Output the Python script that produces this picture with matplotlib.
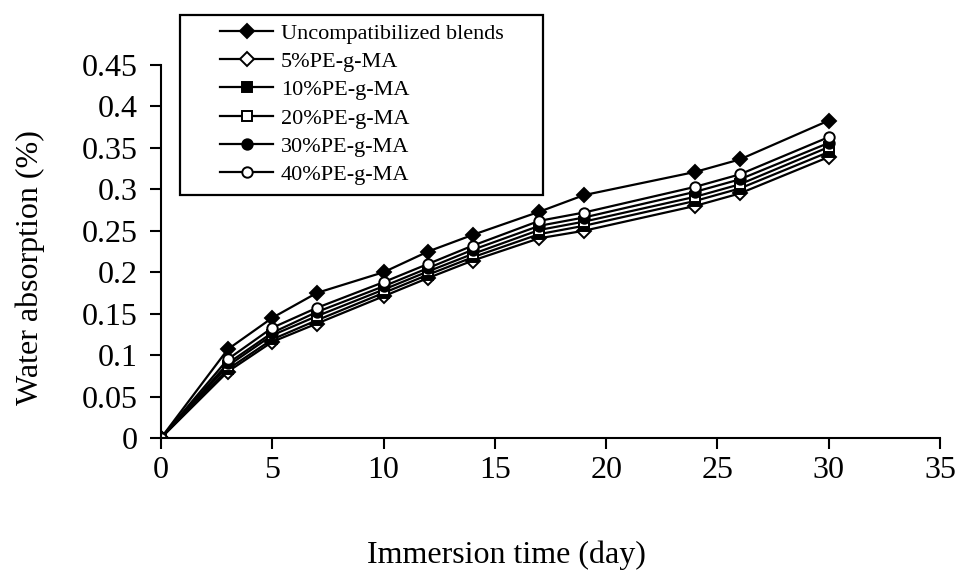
import numpy as np
import matplotlib.pyplot as plt
from matplotlib.patches import Rectangle

plt.rcParams['font.family'] = ['Liberation Serif', 'DejaVu Serif']

days = [0, 3, 5, 7, 10, 12, 14, 17, 19, 24, 26, 30]

uncomp = [0, 0.107, 0.145, 0.175, 0.200, 0.225, 0.245, 0.273, 0.293, 0.321, 0.336, 0.383]
pe5 = [0, 0.080, 0.116, 0.138, 0.171, 0.193, 0.214, 0.241, 0.250, 0.280, 0.295, 0.339]
pe10 = [0, 0.083, 0.119, 0.142, 0.175, 0.197, 0.218, 0.246, 0.256, 0.286, 0.301, 0.345]
pe20 = [0, 0.087, 0.124, 0.147, 0.179, 0.201, 0.222, 0.251, 0.261, 0.291, 0.306, 0.351]
pe30 = [0, 0.090, 0.127, 0.152, 0.183, 0.205, 0.227, 0.256, 0.266, 0.297, 0.312, 0.356]
pe40 = [0, 0.095, 0.133, 0.157, 0.188, 0.210, 0.232, 0.262, 0.272, 0.303, 0.318, 0.363]

labels = ['Uncompatibilized blends', '5%PE-g-MA', '10%PE-g-MA',
          '20%PE-g-MA', '30%PE-g-MA', '40%PE-g-MA']
series = [uncomp, pe5, pe10, pe20, pe30, pe40]
markers = ['D', 'D', 's', 's', 'o', 'o']
fills = ['black', 'white', 'black', 'white', 'black', 'white']

W, H = 959, 579
fig = plt.figure(figsize=(9.59, 5.79), dpi=100)
ax = fig.add_axes([161 / W, 1 - 438 / H, 779 / W, 373 / H])

for s, m, f, lab in zip(series, markers, fills, labels):
    ms = 7 if m == 'D' else 7.5
    ax.plot(days, s, color='black', lw=1.6, marker=m, ms=ms,
            markerfacecolor=f, markeredgecolor='black', markeredgewidth=1.4,
            label=lab)

ax.set_xlim(0, 35)
ax.set_ylim(0, 0.45)
ax.set_xticks(np.arange(0, 36, 5))
ax.set_yticks(np.arange(0, 0.451, 0.05))
ax.set_yticklabels(['0', '0.05', '0.1', '0.15', '0.2', '0.25', '0.3', '0.35', '0.4', '0.45'])

ax.spines['top'].set_visible(False)
ax.spines['right'].set_visible(False)
ax.spines['left'].set_linewidth(1.5)
ax.spines['bottom'].set_linewidth(1.5)
ax.tick_params(axis='both', direction='out', length=8, width=1.5, labelsize=23)
ax.tick_params(axis='x', pad=5)
ax.tick_params(axis='y', pad=9)

ax.set_xlabel('Immersion time (day)', fontsize=23, va='center')
ax.xaxis.set_label_coords((506 - 161) / 779, (438 - 555) / 373)
ax.set_ylabel('Water absorption (%)', fontsize=23, va='center')
ax.yaxis.set_label_coords((30 - 161) / 779, (438 - 268) / 373)

# legend box
box = Rectangle((180 / W, 1 - 195 / H), 363 / W, 180 / H, transform=fig.transFigure,
                facecolor='white', edgecolor='black', lw=1.6, zorder=4, clip_on=False)
ax.add_patch(box)
leg = ax.legend(loc='upper left', bbox_to_anchor=(220 / W, 1 - 23 / H),
                bbox_transform=fig.transFigure, borderaxespad=0, borderpad=0,
                fontsize=16, frameon=False, handlelength=2.4,
                labelspacing=0.35, handletextpad=0.35)
leg.set_zorder(5)

fig.savefig('out.png', dpi=100)
